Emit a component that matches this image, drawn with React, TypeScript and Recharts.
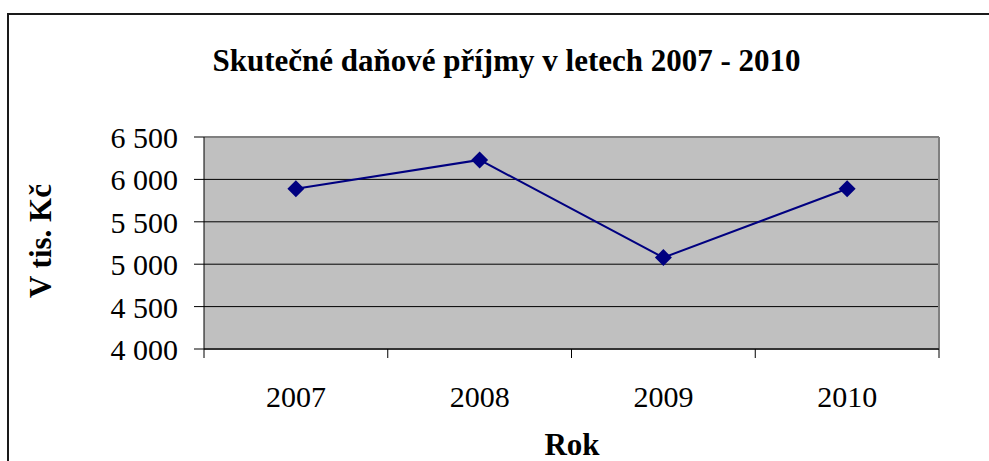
import React from 'react';
import { LineChart, Line, XAxis, YAxis, CartesianGrid, ReferenceLine } from 'recharts';

const years = ['2007', '2008', '2009', '2010'];
const values = [5890, 6230, 5078, 5890];
const yTicks = [4000, 4500, 5000, 5500, 6000, 6500];
const titleText = 'Skutečné daňové příjmy v letech 2007 - 2010';
const yTitle = 'V tis. Kč';
const xTitle = 'Rok';

const data = years.map((y, i) => ({ pos: i + 0.5, year: y, value: values[i] }));
const xTicks = [0, 0.5, 1, 1.5, 2, 2.5, 3, 3.5, 4];

const FONT = '"Liberation Serif", "Times New Roman", serif';

const fmt = (v: number) => {
  const s = String(v);
  return s.slice(0, s.length - 3) + ' ' + s.slice(-3);
};

const XTick = (props: any) => {
  const { x, y, payload } = props;
  const v = payload.value as number;
  if (Number.isInteger(v)) {
    return <line x1={x} x2={x} y1={y} y2={y + 9} stroke="#000" strokeWidth={1} />;
  }
  return (
    <text x={x} y={y + 58} textAnchor="middle" style={{ fontFamily: FONT }} fontSize={30} fill="#000">
      {years[Math.floor(v)]}
    </text>
  );
};

const YTick = (props: any) => {
  const { x, y, payload } = props;
  return (
    <g>
      <line x1={x - 10} x2={x} y1={y} y2={y} stroke="#000" strokeWidth={1} />
      <text x={x - 26} y={y + 11} textAnchor="end" style={{ fontFamily: FONT }} fontSize={30} fill="#000">
        {fmt(payload.value)}
      </text>
    </g>
  );
};

const Diamond = (props: any) => {
  const { cx, cy, index } = props;
  const r = 8.5;
  return (
    <path
      key={`d-${index}`}
      d={`M${cx},${cy - r}L${cx + r},${cy}L${cx},${cy + r}L${cx - r},${cy}Z`}
      fill="#000080"
    />
  );
};

export default function App() {
  return (
    <div style={{ position: 'absolute', left: 0, top: 0, width: 989, height: 461, overflow: 'hidden', background: '#fff', fontFamily: FONT }}>
      <div
        style={{
          position: 'absolute',
          left: 7,
          top: 13,
          width: 1100,
          height: 600,
          borderTop: '2px solid #1a1a1a',
          borderLeft: '2px solid #1a1a1a',
        }}
      />
      <div style={{ position: 'absolute', left: 0, top: 0 }}>
        <LineChart width={989} height={461} data={data} margin={{ top: 137, right: 50, bottom: 52, left: 144 }}>
          <CartesianGrid horizontal={true} vertical={false} fill="#C0C0C0" stroke="#000" strokeWidth={1} />
          <ReferenceLine y={6500} stroke="#808080" strokeWidth={2} />
          <ReferenceLine x={4} stroke="#808080" strokeWidth={2} />
          <XAxis
            dataKey="pos"
            type="number"
            domain={[0, 4]}
            ticks={xTicks}
            interval={0}
            height={60}
            tickSize={0}
            tickMargin={0}
            tickLine={false}
            axisLine={{ stroke: '#333', strokeWidth: 2 }}
            tick={<XTick />}
          />
          <YAxis
            type="number"
            domain={[4000, 6500]}
            ticks={yTicks}
            interval={0}
            width={60}
            tickSize={0}
            tickMargin={0}
            tickLine={false}
            axisLine={{ stroke: '#000', strokeWidth: 1 }}
            tick={<YTick />}
          />
          <Line
            type="linear"
            dataKey="value"
            stroke="#000080"
            strokeWidth={2}
            dot={Diamond}
            activeDot={false}
            isAnimationActive={false}
          />
        </LineChart>
      </div>
      <svg width={989} height={461} style={{ position: 'absolute', left: 0, top: 0, pointerEvents: 'none' }}>
        <text x={506.5} y={71} textAnchor="middle" style={{ fontFamily: FONT }} fontWeight="bold" fontSize={31} fill="#000">
          {titleText}
        </text>
        <text
          x={0}
          y={0}
          transform="translate(51,241) rotate(-90)"
          textAnchor="middle"
          style={{ fontFamily: FONT }}
          fontWeight="bold"
          fontSize={31}
          fill="#000"
        >
          {yTitle}
        </text>
        <text x={572} y={455} textAnchor="middle" style={{ fontFamily: FONT }} fontWeight="bold" fontSize={31} fill="#000">
          {xTitle}
        </text>
      </svg>
    </div>
  );
}
